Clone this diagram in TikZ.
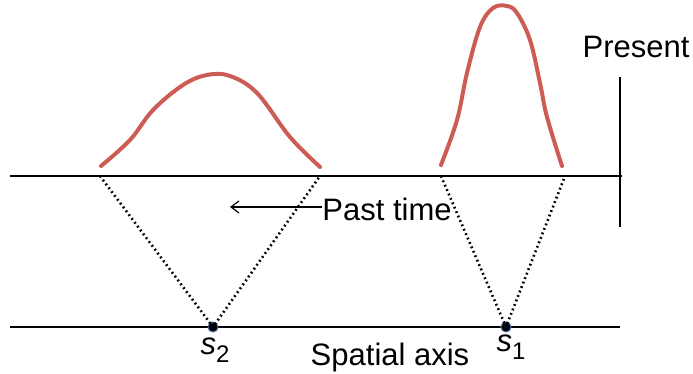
\documentclass[tikz,border=0pt]{standalone}
\usepackage{fontspec}
\setmainfont{Liberation Sans}
\usetikzlibrary{arrows.meta, positioning}

\definecolor{curvered}{RGB}{205,92,85}
\definecolor{dotblue}{RGB}{70,110,160}

\newcommand{\sitename}[1]{\textit{s}\raisebox{-4pt}{\fontsize{12}{14}\selectfont #1}}

\begin{document}
\begin{tikzpicture}[
        x=0.5pt, y=-0.5pt,
        axis/.style={line width=1.1pt, black},
        cone/.style={line width=1.3pt, dash pattern=on 0.9pt off 1.5pt, black},
        bell/.style={line width=2pt, curvered, line cap=round},
        site/.style={circle, fill=black, draw=dotblue, line width=0.5pt, inner sep=0pt, minimum size=5pt},
        lbl/.style={font=\fontsize{15.5}{18}\selectfont, inner sep=0pt},
        arrow/.style={line width=0.6pt, {Straight Barb[length=4pt, width=6pt]}-}
        ]
        \useasboundingbox (0,0) rectangle (693,374);

        % Axes
        \coordinate (presL) at (10,176);
        \coordinate (presR) at (622,176);
        \coordinate (nowT) at (620,77);
        \coordinate (nowB) at (620,227);
        \coordinate (spaceL) at (10,327);
        \coordinate (spaceR) at (620,327);

        \draw [axis] (presL) -- (presR);
        \draw [axis] (nowT) -- (nowB);
        \draw [axis] (spaceL) -- (spaceR);

        % Cone edges on the present line
        \coordinate (a2) at (100,176);
        \coordinate (b2) at (320,176);
        \coordinate (a1) at (441,176);
        \coordinate (b1) at (565,176);

        % Sites
        \node (s2) [site] at (213,327) {};
        \node (s1) [site] at (506,327) {};

        \draw [cone] (a2) -- (s2.center) -- (b2);
        \draw [cone] (a1) -- (s1.center) -- (b1);

        % Bell curves
        \draw [bell] plot [smooth, tension=0.6] coordinates {(101,166) (130,140) (153,110) (183,85) (207,75) (230,76) (257,93) (290,137) (320,167)};
        \draw [bell] plot [smooth, tension=0.6] coordinates {(441,165) (457,120) (467,73) (480,27) (493,8) (507,6) (517,13) (530,40) (540,83) (547,117) (562,166)};

        % Labels
        \node (present) [lbl] at (636,47) {Present};
        \node (past) [lbl, anchor=west] at (322,209) {Past time};
        \coordinate (pastend) at (230,207);
        \draw [arrow] (pastend) -- (past.west |- pastend);

        \node (s2lbl) [lbl] at (215,350) {\sitename{2}};
        \node (s1lbl) [lbl] at (511,347) {\sitename{1}};
        \node (spatial) [lbl] at (390,357) {Spatial axis};
    \end{tikzpicture}
\end{document}
